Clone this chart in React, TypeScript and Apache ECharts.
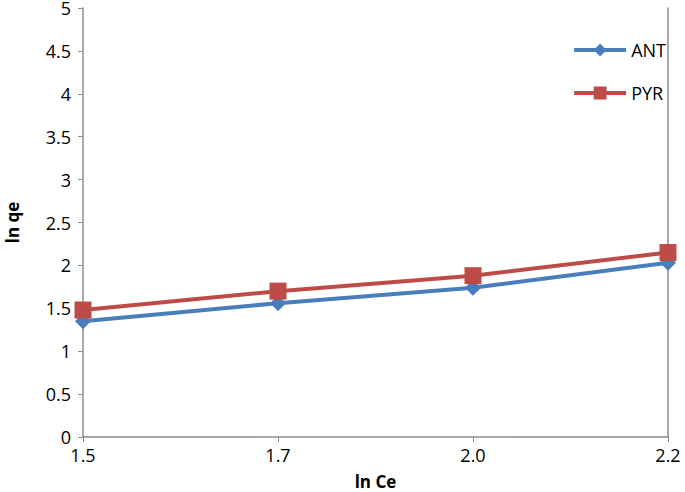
import React, { useEffect, useRef } from "react";
import * as echarts from "echarts";

const categories = ["1.5", "1.7", "2.0", "2.2"];
const antValues = [1.35, 1.56, 1.74, 2.03];
const pyrValues = [1.48, 1.7, 1.88, 2.15];

const FONT = "Open Sans";

export default function App() {
  const ref = useRef<HTMLDivElement>(null);
  useEffect(() => {
    if (!ref.current) return;
    const chart = echarts.init(ref.current, null, { renderer: "svg" });
    const axisColor = "#8c8c8c";
    chart.setOption({
      animation: false,
      backgroundColor: "#ffffff",
      textStyle: { fontFamily: FONT },
      grid: { left: 83, right: 17, top: 8, bottom: 55, containLabel: false, outerBoundsMode: "none" },
      legend: {
        orient: "vertical",
        right: 14,
        top: 36,
        itemGap: 25,
        itemWidth: 52,
        itemHeight: 16,
        lineStyle: { width: 4 },
        textStyle: { fontFamily: FONT, fontSize: 18, color: "#000" },
        data: ["ANT", "PYR"],
      },
      xAxis: {
        type: "category",
        data: categories,
        boundaryGap: false,
        name: "ln Ce",
        nameLocation: "middle",
        nameGap: 36,
        nameTextStyle: { fontFamily: FONT, fontSize: 17, fontWeight: "bold", color: "#000" },
        axisLine: { lineStyle: { color: axisColor, width: 1.5 } },
        axisTick: { show: true, inside: false, length: 5, alignWithLabel: true, lineStyle: { color: axisColor } },
        axisLabel: { fontFamily: FONT, fontSize: 18, color: "#000", margin: 9 },
        splitLine: { show: false },
      },
      yAxis: [
        {
          type: "value",
          min: 0,
          max: 5,
          interval: 0.5,
          name: "ln qe",
          nameLocation: "middle",
          nameGap: 62,
          nameRotate: 90,
          nameTextStyle: { fontFamily: FONT, fontSize: 17, fontWeight: "bold", color: "#000" },
          axisLine: { show: true, lineStyle: { color: axisColor, width: 1.5 } },
          axisTick: { show: true, inside: false, length: 5, lineStyle: { color: axisColor } },
          axisLabel: { fontFamily: FONT, fontSize: 18, color: "#000", margin: 12 },
          splitLine: { show: false },
        },
        {
          type: "value",
          min: 0,
          max: 5,
          interval: 0.5,
          position: "right",
          axisLine: { show: true, lineStyle: { color: axisColor, width: 1.5 } },
          axisTick: { show: false },
          axisLabel: { show: false },
          splitLine: { show: false },
        },
      ],
      series: [
        {
          name: "ANT",
          type: "line",
          data: antValues,
          symbol: "diamond",
          symbolSize: 16,
          lineStyle: { color: "#4a7ebb", width: 4 },
          itemStyle: { color: "#4a7ebb" },
        },
        {
          name: "PYR",
          type: "line",
          data: pyrValues,
          symbol: "rect",
          symbolSize: 17,
          lineStyle: { color: "#be4b48", width: 4 },
          itemStyle: { color: "#be4b48" },
        },
      ],
    });
    return () => chart.dispose();
  }, []);
  return <div ref={ref} style={{ width: 685, height: 492, position: "absolute", left: 0, top: 0 }} />;
}
